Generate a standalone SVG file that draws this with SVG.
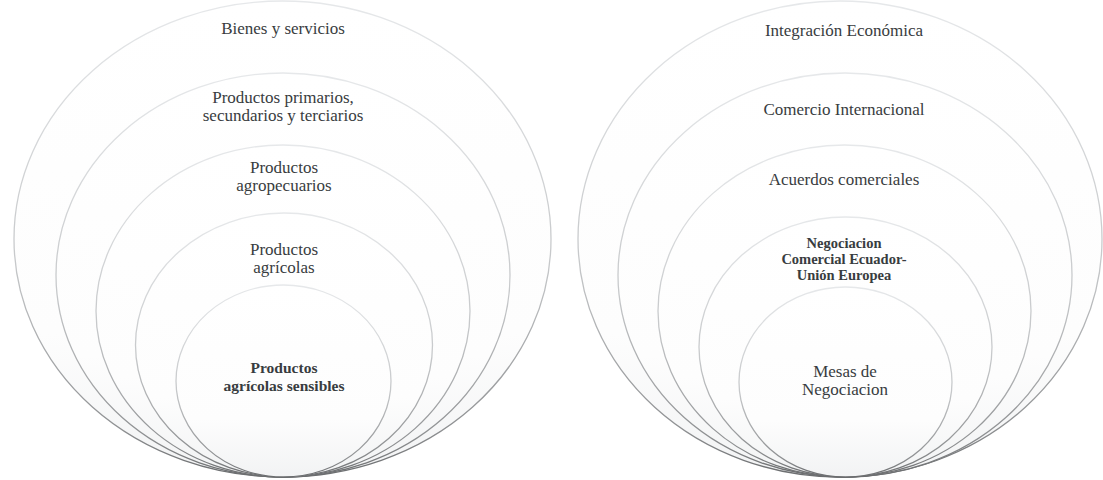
<svg xmlns="http://www.w3.org/2000/svg" width="1103" height="480" viewBox="0 0 1103 480">
  <defs>
    <linearGradient id="strokeGrad" x1="0" y1="0" x2="0" y2="1">
      <stop offset="0" stop-color="#e6e8ea"/>
      <stop offset="0.55" stop-color="#c6c8ca"/>
      <stop offset="0.9" stop-color="#8e9092"/>
      <stop offset="1" stop-color="#6a6c6e"/>
    </linearGradient>
    <linearGradient id="fillGrad" x1="0" y1="0" x2="0" y2="1">
      <stop offset="0" stop-color="#ffffff"/>
      <stop offset="0.7" stop-color="#fdfdfd"/>
      <stop offset="1" stop-color="#f2f3f4"/>
    </linearGradient>
  </defs>
  <style>
    .ring { fill: url(#fillGrad); stroke: url(#strokeGrad); stroke-width: 1.3; }
    .lbl { font-family: "Liberation Serif", "Times New Roman", serif; font-size: 17px; fill: #383c40; text-anchor: middle; }
    .bold { font-weight: bold; font-size: 15.5px; }
    .bold2 { font-weight: bold; font-size: 14.5px; }
  </style>
  <rect width="1103" height="480" fill="#ffffff"/>

  <g id="connectors"/>

  <!-- Left set -->
  <g id="bienes-servicios">
    <ellipse class="ring" cx="282.5" cy="239" rx="268.5" ry="238"/>
    <text class="lbl" x="283" y="34">Bienes y servicios</text>
  </g>
  <g id="productos-primarios">
    <ellipse class="ring" cx="283" cy="275" rx="227" ry="202"/>
    <text class="lbl" x="283" y="103">Productos primarios,</text>
    <text class="lbl" x="283" y="121">secundarios y terciarios</text>
  </g>
  <g id="productos-agropecuarios">
    <ellipse class="ring" cx="283" cy="311" rx="187" ry="166"/>
    <text class="lbl" x="284" y="173">Productos</text>
    <text class="lbl" x="284" y="191">agropecuarios</text>
  </g>
  <g id="productos-agricolas">
    <ellipse class="ring" cx="284" cy="345" rx="148.5" ry="132"/>
    <text class="lbl" x="284" y="255">Productos</text>
    <text class="lbl" x="284" y="273">agrícolas</text>
  </g>
  <g id="productos-agricolas-sensibles">
    <ellipse class="ring" cx="283.5" cy="381" rx="107.5" ry="96"/>
    <text class="lbl bold" x="284" y="373">Productos</text>
    <text class="lbl bold" x="284" y="391">agrícolas sensibles</text>
  </g>

  <!-- Right set -->
  <g id="integracion-economica">
    <ellipse class="ring" cx="840" cy="239" rx="262" ry="238"/>
    <text class="lbl" x="844" y="36">Integración Económica</text>
  </g>
  <g id="comercio-internacional">
    <ellipse class="ring" cx="845" cy="275" rx="227" ry="202"/>
    <text class="lbl" x="844" y="115">Comercio Internacional</text>
  </g>
  <g id="acuerdos-comerciales">
    <ellipse class="ring" cx="844.5" cy="311" rx="186.5" ry="166"/>
    <text class="lbl" x="844" y="185">Acuerdos comerciales</text>
  </g>
  <g id="negociacion-ecuador-ue">
    <ellipse class="ring" cx="845.5" cy="347" rx="146.5" ry="130"/>
    <text class="lbl bold2" x="844" y="248">Negociacion</text>
    <text class="lbl bold2" x="844" y="264">Comercial Ecuador-</text>
    <text class="lbl bold2" x="844" y="280">Unión Europea</text>
  </g>
  <g id="mesas-negociacion">
    <ellipse class="ring" cx="845.5" cy="382" rx="106.5" ry="95"/>
    <text class="lbl" x="845" y="377">Mesas de</text>
    <text class="lbl" x="845" y="395">Negociacion</text>
  </g>
</svg>
